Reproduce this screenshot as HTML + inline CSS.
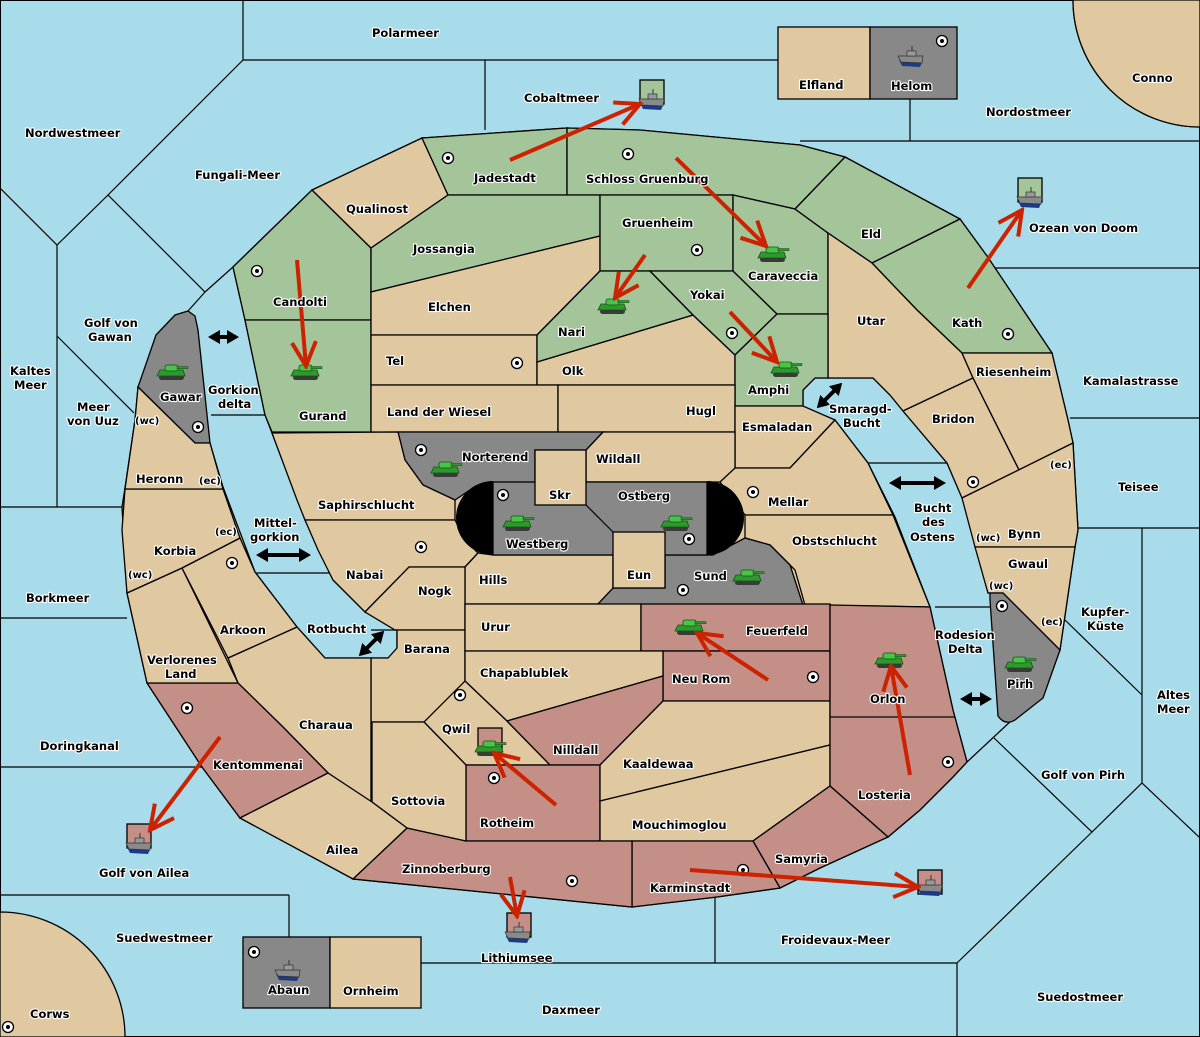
<!DOCTYPE html>
<html><head><meta charset="utf-8"><style>
body{margin:0;padding:0;background:#a8dcea}
svg{display:block}
text{font-family:"DejaVu Sans","Liberation Sans",sans-serif;font-weight:bold;font-size:11.5px;fill:#000;stroke:#fff;stroke-width:2.2px;paint-order:stroke;stroke-linejoin:round}
text.s{font-size:10px}
.t{fill:#e0c8a0;stroke:#000;stroke-width:1.3}
.g{fill:#a4c49a;stroke:#000;stroke-width:1.3}
.r{fill:#c48f86;stroke:#000;stroke-width:1.3}
.y{fill:#888;stroke:#000;stroke-width:1.3}
.l{stroke:#000;stroke-width:1.2;fill:none}
.a{stroke:#cc2200;stroke-width:4;fill:none;marker-end:url(#ah)}
.d{stroke:#000;stroke-width:4;fill:none;marker-start:url(#bh);marker-end:url(#bh)}
</style></head><body>
<svg width="1200" height="1037" viewBox="0 0 1200 1037" xmlns="http://www.w3.org/2000/svg">
<defs>
<marker id="ah" viewBox="0 0 30 30" refX="27" refY="15" markerWidth="30" markerHeight="30" markerUnits="userSpaceOnUse" orient="auto"><path d="M3,3 L27,15 L3,27" fill="none" stroke="#cc2200" stroke-width="4"/></marker>
<marker id="bh" viewBox="0 0 12 14" refX="6" refY="7" markerWidth="12" markerHeight="14" markerUnits="userSpaceOnUse" orient="auto-start-reverse"><path d="M0,0 L12,7 L0,14 Z" fill="#000"/></marker>
<g id="tk"><rect x="-13" y="2" width="25" height="5" rx="2.5" fill="#3a3a3a"/><polygon points="-15,3 13,3 11,-3 -12,-3" fill="#2e9a2e" stroke="#145014" stroke-width="0.8"/><rect x="-7" y="-8" width="13" height="6" rx="2" fill="#48c448" stroke="#145014" stroke-width="0.8"/><rect x="5" y="-6.5" width="11" height="2.2" fill="#2e9a2e" stroke="#145014" stroke-width="0.5"/></g>
<g id="sh"><path d="M-12,2 L12,2 L9,9 L-9,8 Z" fill="#1a3a8a"/><path d="M-13,-2 L12,-2 L11,5 L-10,4 Z" fill="#8a8a8a" stroke="#333" stroke-width="0.7"/><rect x="-4" y="-7" width="9" height="5" fill="#999" stroke="#333" stroke-width="0.7"/><line x1="1" y1="-12" x2="1" y2="-7" stroke="#333"/></g>
<g id="sc"><circle r="5.5" fill="#fff" stroke="#000" stroke-width="1.3"/><circle r="2" fill="#000"/></g>
</defs>
<rect width="1200" height="1037" fill="#a8dcea" stroke="#000" stroke-width="2"/>
<!-- sea lines -->
<g class="l">
<path d="M243,0V60H778M485,60V130M910,99V141M800,141H1200M995,268H1200M1070,418H1200M1078,528H1200M1142,528V783M1065,620L1142,695M1012,720L967,762M993,737L1092,832L1142,783L1200,838M1092,832L957,963V1037M421,963H957M715,897V963M289,895V937M0,895H289M0,767H202M0,618H127M0,507H122M57,245V507M0,188L57,245L108,195L243,60M108,195L205,292L233,267M205,292L188,311M57,336L134,413M211,415H265M935,607H990M868,463H947M255,573H333"/>
</g>
<path d="M1073,0 A127,127 0 0 0 1200,127" class="t"/>
<path d="M1073,0 A127,127 0 0 0 1200,127 V0Z" fill="#e0c8a0" stroke="#000" stroke-width="1.3"/>
<path d="M0,912 A125,125 0 0 1 125,1037 H0Z" fill="#e0c8a0" stroke="#000" stroke-width="1.3"/>
<!-- boxes -->
<rect x="778" y="27" width="92" height="72" class="t"/>
<rect x="870" y="27" width="87" height="72" class="y"/>
<rect x="243" y="937" width="87" height="71" class="y"/>
<rect x="330" y="937" width="91" height="71" class="t"/>
<!-- land silhouette -->
<path class="t" d="M233,267L312,190L422,138L567,128L640,130L800,145L845,157L960,219L987,256L1052,353L1068,420L1073,443L1078,530L1075,547L1060,650L1003,593L988,593L963,500L947,463L903,411L890,395L873,378L815,378L803,390L803,407L835,420L868,463L895,517L930,607L953,710L967,762L953,777L920,810L888,837L820,868L780,888L717,897L632,907L353,879L240,818L202,767L147,683L127,593L122,507L125,488L135,420L138,387L195,443L210,443L223,487L255,572L297,627L325,658L388,658Q397,658 397,648L397,630L365,612L333,580L305,520L272,433L265,415L245,320Z"/>
<!-- green -->
<polygon class="g" points="233,267 312,190 371,248 371,320 245,320"/>
<polygon class="g" points="245,320 371,320 371,432 272,432 265,415"/>
<polygon class="t" points="312,190 422,138 448,195 371,248"/>
<polygon class="g" points="422,138 567,128 567,195 448,195"/>
<polygon class="g" points="567,128 640,130 800,145 845,157 795,209 733,195 567,195"/>
<polygon class="g" points="371,248 448,195 600,195 600,236 371,292"/>
<polygon class="t" points="371,292 600,236 600,271 537,335 371,335"/>
<polygon class="g" points="600,195 733,195 733,271 600,271"/>
<polygon class="t" points="371,335 537,335 537,385 371,385"/>
<polygon class="t" points="537,362 693,315 735,355 735,385 537,385"/>
<polygon class="g" points="537,335 600,271 650,271 693,315 537,362"/>
<polygon class="g" points="650,271 733,271 777,314 735,355 693,315"/>
<polygon class="g" points="733,195 795,209 828,233 828,314 777,314 733,271"/>
<polygon class="g" points="845,157 960,219 872,263 828,233 795,209"/>
<polygon class="g" points="960,219 987,256 1052,353 962,353 917,310 872,263"/>
<polygon class="t" points="828,233 872,263 917,310 962,353 973,378 903,411 890,395 873,378 828,378"/>
<polygon class="g" points="735,355 777,314 828,314 828,378 815,378 803,390 803,406 735,406"/>
<polygon class="t" points="962,353 1052,353 1068,420 1073,443 1019,470 973,378"/>
<polygon class="t" points="973,378 1019,470 962,498 947,463 903,411"/>
<polygon class="t" points="962,498 1073,443 1078,530 1075,547 975,547"/>
<polygon class="t" points="975,547 1075,547 1060,650 1003,593 988,593"/>
<path class="y" d="M990,593L1003,593L1060,650L1043,698L1015,720Q1005,726 998,716L990,600Z"/>
<polygon class="y" points="138,387 156,335 175,315 188,311 195,316 198,330 210,443 195,443"/>
<polygon class="t" points="371,385 558,385 558,432 371,432"/>
<polygon class="t" points="558,385 735,385 735,432 558,432"/>
<polygon class="t" points="735,406 803,406 835,420 790,468 735,468"/>
<polygon class="t" points="586,450 603,432 735,432 735,469 720,482 586,482"/>
<polygon class="t" points="720,482 735,468 790,468 835,420 868,463 893,515 745,515"/>
<polygon class="t" points="745,515 893,515 930,607 805,605 795,570 770,545 745,538"/>
<path class="y" d="M398,432L603,432L586,450L535,450L535,482L470,490L455,500L423,485L405,460Z"/>
<polygon class="t" points="272,433 398,432 405,460 423,485 455,500 455,520 305,520 297,500"/>
<polygon class="t" points="305,520 455,520 465,540 478,553 465,567 409,567 365,612 333,580 318,550"/>
<polygon class="t" points="465,567 478,553 493,555 613,555 613,604 465,604"/>
<polygon class="t" points="409,567 465,567 465,630 395,630 365,612"/>
<polygon class="t" points="371,630 465,630 465,722 371,722 371,658 388,658 397,648 397,630"/>
<path class="y" d="M597,605L613,588L665,588L665,555L713,555L745,538L770,545L790,565L803,605Z"/>
<rect x="493" y="482" width="214" height="73" class="y"/>
<path d="M493,481 A37,37 0 0 0 493,555Z M707,481 A37,37 0 0 1 707,555Z" fill="#000"/>
<path class="l" d="M586,505L613,532"/>
<rect x="535" y="450" width="51" height="55" class="t"/>
<rect x="613" y="532" width="52" height="56" class="t"/>
<polygon class="t" points="465,604 641,604 641,651 465,651"/>
<rect x="641" y="604" width="189" height="47" class="r"/>
<rect x="663" y="651" width="167" height="50" class="r"/>
<polygon class="t" points="465,651 663,651 663,676 507,721 465,681"/>
<polygon class="t" points="465,681 507,721 550,765 466,765 424,722"/>
<polygon class="r" points="507,721 663,676 663,701 600,765 550,765"/>
<rect x="466" y="765" width="134" height="76" class="r"/>
<polygon class="t" points="600,765 663,701 830,701 830,745 600,801"/>
<polygon class="t" points="600,801 830,745 830,786 753,841 600,841"/>
<polygon class="r" points="830,605 930,607 953,710 967,762 953,777 920,810 888,837 830,786"/>
<path class="l" d="M830,717H955"/>
<polygon class="r" points="753,841 830,786 888,837 820,868 780,888"/>
<polygon class="r" points="632,841 753,841 780,888 717,897 632,907"/>
<polygon class="r" points="407,828 466,841 632,841 632,907 353,879"/>
<polygon class="t" points="372,722 424,722 466,765 466,841 407,828 372,802"/>
<polygon class="t" points="228,658 297,627 325,658 371,658 371,802 328,773 283,727 238,683"/>
<polygon class="r" points="147,683 238,683 283,727 328,773 240,818 202,767"/>
<polygon class="t" points="240,818 328,773 372,802 407,828 353,879"/>
<polygon class="t" points="127,593 182,568 238,683 147,683"/>
<polygon class="t" points="182,568 240,538 255,572 297,627 228,658"/>
<polygon class="t" points="125,489 223,489 240,538 182,568 127,593 122,530"/>
<polygon class="t" points="138,387 195,443 210,443 223,489 125,489 135,420"/>
<!-- small unit boxes -->
<rect x="640" y="80" width="24" height="24" class="g"/>
<rect x="1018" y="178" width="24" height="24" class="g"/>
<rect x="127" y="824" width="24" height="24" class="r"/>
<rect x="507" y="913" width="24" height="24" class="r"/>
<rect x="918" y="870" width="24" height="24" class="r"/>
<rect x="478" y="728" width="24" height="24" class="r"/>
<!-- supply centers -->
<g>
<use href="#sc" x="448" y="158"/><use href="#sc" x="628" y="154"/><use href="#sc" x="942" y="41"/><use href="#sc" x="257" y="271"/><use href="#sc" x="517" y="363"/><use href="#sc" x="697" y="250"/><use href="#sc" x="732" y="333"/><use href="#sc" x="1008" y="334"/><use href="#sc" x="198" y="427"/><use href="#sc" x="421" y="450"/><use href="#sc" x="503" y="495"/><use href="#sc" x="753" y="492"/><use href="#sc" x="689" y="539"/><use href="#sc" x="683" y="590"/><use href="#sc" x="232" y="563"/><use href="#sc" x="421" y="547"/><use href="#sc" x="973" y="482"/><use href="#sc" x="1002" y="606"/><use href="#sc" x="813" y="677"/><use href="#sc" x="187" y="708"/><use href="#sc" x="460" y="695"/><use href="#sc" x="494" y="778"/><use href="#sc" x="572" y="881"/><use href="#sc" x="743" y="870"/><use href="#sc" x="948" y="762"/><use href="#sc" x="8" y="1027"/><use href="#sc" x="254" y="952"/>
</g>
<!-- tanks -->
<use href="#tk" x="172" y="373"/><use href="#tk" x="306" y="373"/><use href="#tk" x="773" y="255"/><use href="#tk" x="613" y="307"/><use href="#tk" x="786" y="370"/><use href="#tk" x="446" y="470"/><use href="#tk" x="518" y="524"/><use href="#tk" x="676" y="524"/><use href="#tk" x="748" y="578"/><use href="#tk" x="690" y="628"/><use href="#tk" x="890" y="661"/><use href="#tk" x="1020" y="665"/><use href="#tk" x="490" y="749"/>
<!-- ships -->
<use href="#sh" x="652" y="101"/><use href="#sh" x="911" y="58"/><use href="#sh" x="1030" y="199"/><use href="#sh" x="139" y="845"/><use href="#sh" x="518" y="934"/><use href="#sh" x="930" y="887"/><use href="#sh" x="288" y="972"/>
<!-- arrows -->
<path class="a" d="M510,160L640,104"/>
<path class="a" d="M676,158L766,246"/>
<path class="a" d="M297,260L306,366"/>
<path class="a" d="M645,255L615,298"/>
<path class="a" d="M730,312L777,362"/>
<path class="a" d="M968,288L1022,210"/>
<path class="a" d="M220,737L150,830"/>
<path class="a" d="M768,680L697,633"/>
<path class="a" d="M556,805L494,753"/>
<path class="a" d="M910,775L891,666"/>
<path class="a" d="M510,877L517,916"/>
<path class="a" d="M690,870L918,887"/>
<!-- double arrows -->
<path class="d" d="M214,337H233"/>
<path class="d" d="M262,555H305"/>
<path class="d" d="M363,652L380,635"/>
<path class="d" d="M821,404L838,387"/>
<path class="d" d="M895,483H940"/>
<path class="d" d="M966,699H986"/>
<!-- labels -->
<text x="372" y="37">Polarmeer</text>
<text x="524" y="102">Cobaltmeer</text>
<text x="799" y="89">Elfland</text>
<text x="891" y="90">Helom</text>
<text x="1132" y="82">Conno</text>
<text x="986" y="116">Nordostmeer</text>
<text x="25" y="137">Nordwestmeer</text>
<text x="195" y="179">Fungali-Meer</text>
<text x="474" y="182">Jadestadt</text>
<text x="586" y="183">Schloss Gruenburg</text>
<text x="346" y="213">Qualinost</text>
<text x="413" y="253">Jossangia</text>
<text x="622" y="227">Gruenheim</text>
<text x="748" y="280">Caraveccia</text>
<text x="861" y="238">Eld</text>
<text x="1029" y="232">Ozean von Doom</text>
<text x="273" y="306">Candolti</text>
<text x="428" y="311">Elchen</text>
<text x="690" y="299">Yokai</text>
<text x="857" y="325">Utar</text>
<text x="952" y="327">Kath</text>
<text x="84" y="327">Golf von</text>
<text x="88" y="341">Gawan</text>
<text x="558" y="336">Nari</text>
<text x="386" y="365">Tel</text>
<text x="562" y="375">Olk</text>
<text x="10" y="375">Kaltes</text>
<text x="14" y="389">Meer</text>
<text x="748" y="394">Amphi</text>
<text x="976" y="376">Riesenheim</text>
<text x="1083" y="385">Kamalastrasse</text>
<text x="160" y="401">Gawar</text>
<text x="208" y="394">Gorkion</text>
<text x="218" y="408">delta</text>
<text x="77" y="411">Meer</text>
<text x="67" y="425">von Uuz</text>
<text class="s" x="135" y="424">(wc)</text>
<text x="299" y="420">Gurand</text>
<text x="387" y="416">Land der Wiesel</text>
<text x="686" y="415">Hugl</text>
<text x="829" y="413">Smaragd-</text>
<text x="843" y="427">Bucht</text>
<text x="932" y="423">Bridon</text>
<text x="742" y="431">Esmaladan</text>
<text x="462" y="461">Norterend</text>
<text x="596" y="463">Wildall</text>
<text x="136" y="483">Heronn</text>
<text class="s" x="199" y="484">(ec)</text>
<text class="s" x="1050" y="468">(ec)</text>
<text x="1118" y="491">Teisee</text>
<text x="549" y="499">Skr</text>
<text x="618" y="500">Ostberg</text>
<text x="768" y="506">Mellar</text>
<text x="318" y="509">Saphirschlucht</text>
<text x="914" y="512">Bucht</text>
<text x="922" y="526">des</text>
<text x="910" y="541">Ostens</text>
<text x="254" y="527">Mittel-</text>
<text x="250" y="541">gorkion</text>
<text class="s" x="215" y="535">(ec)</text>
<text class="s" x="976" y="541">(wc)</text>
<text x="1008" y="538">Bynn</text>
<text x="506" y="548">Westberg</text>
<text x="792" y="545">Obstschlucht</text>
<text x="154" y="555">Korbia</text>
<text x="1008" y="568">Gwaul</text>
<text x="346" y="579">Nabai</text>
<text x="479" y="584">Hills</text>
<text x="627" y="579">Eun</text>
<text x="694" y="580">Sund</text>
<text class="s" x="128" y="578">(wc)</text>
<text class="s" x="989" y="589">(wc)</text>
<text x="418" y="595">Nogk</text>
<text x="26" y="602">Borkmeer</text>
<text x="1081" y="616">Kupfer-</text>
<text x="1087" y="630">Küste</text>
<text class="s" x="1041" y="625">(ec)</text>
<text x="481" y="631">Urur</text>
<text x="307" y="633">Rotbucht</text>
<text x="220" y="634">Arkoon</text>
<text x="746" y="635">Feuerfeld</text>
<text x="935" y="639">Rodesion</text>
<text x="948" y="653">Delta</text>
<text x="404" y="653">Barana</text>
<text x="147" y="664">Verlorenes</text>
<text x="165" y="678">Land</text>
<text x="480" y="677">Chapablublek</text>
<text x="672" y="683">Neu Rom</text>
<text x="1007" y="688">Pirh</text>
<text x="870" y="703">Orlon</text>
<text x="1157" y="699">Altes</text>
<text x="1157" y="713">Meer</text>
<text x="299" y="729">Charaua</text>
<text x="442" y="733">Qwil</text>
<text x="40" y="750">Doringkanal</text>
<text x="553" y="754">Nilldall</text>
<text x="623" y="768">Kaaldewaa</text>
<text x="213" y="769">Kentommenai</text>
<text x="1041" y="779">Golf von Pirh</text>
<text x="858" y="799">Losteria</text>
<text x="391" y="805">Sottovia</text>
<text x="480" y="827">Rotheim</text>
<text x="632" y="829">Mouchimoglou</text>
<text x="326" y="854">Ailea</text>
<text x="775" y="863">Samyria</text>
<text x="402" y="873">Zinnoberburg</text>
<text x="99" y="877">Golf von Ailea</text>
<text x="650" y="892">Karminstadt</text>
<text x="116" y="942">Suedwestmeer</text>
<text x="781" y="944">Froidevaux-Meer</text>
<text x="481" y="962">Lithiumsee</text>
<text x="268" y="994">Abaun</text>
<text x="343" y="995">Ornheim</text>
<text x="1037" y="1001">Suedostmeer</text>
<text x="542" y="1014">Daxmeer</text>
<text x="30" y="1018">Corws</text>
</svg>
</body></html>
